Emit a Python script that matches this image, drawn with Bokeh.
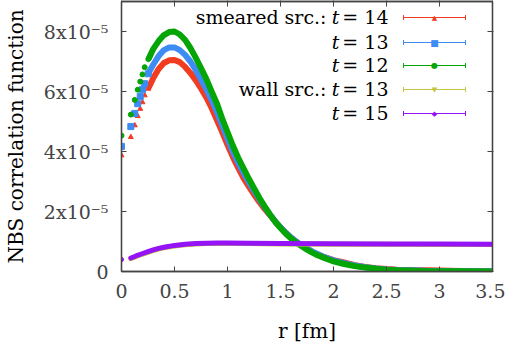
import numpy as np
from bokeh.plotting import figure
from bokeh.models import (FixedTicker, CustomJSTickFormatter, LinearAxis, Range1d,
                          Label, Arrow, TeeHead)
from bokeh.embed import file_html
from bokeh.resources import INLINE

# ---------------- data (values in units of 1e-5) ----------------
UNIT = 1e-5

r_lattice = [0.0, 0.088, 0.125, 0.153, 0.177, 0.198, 0.219, 0.253]
t14_lattice = [3.87, 4.48, 4.87, 5.18, 5.42, 5.64, 5.87, 6.09]
t13_lattice = [4.17, 4.83, 5.27, 5.59, 5.83, 6.07, 6.26, 6.59]
t12_lattice = [4.53, 5.23, 5.72, 6.06, 6.33, 6.57, 6.81, 7.08]

r_dense = [0.26, 0.30, 0.35, 0.40, 0.45, 0.50, 0.55, 0.60, 0.65, 0.70, 0.75, 0.80,
           0.85, 0.90, 0.95, 1.00, 1.05, 1.10, 1.15, 1.20, 1.25, 1.30, 1.35, 1.40,
           1.45, 1.50, 1.55, 1.60, 1.65, 1.70, 1.75, 1.80, 1.85, 1.90, 1.95, 2.00,
           2.10, 2.20, 2.30, 2.40, 2.50, 2.60, 2.70, 2.80, 2.90, 3.00, 3.20, 3.50]
t14_dense = [6.15, 6.45, 6.75, 6.95, 7.04, 7.05, 6.98, 6.82, 6.62, 6.38, 6.10, 5.80,
             5.45, 5.05, 4.65, 4.22, 3.82, 3.46, 3.12, 2.84, 2.57, 2.32, 2.09, 1.88,
             1.67, 1.47, 1.29, 1.13, 0.99, 0.87, 0.76, 0.66, 0.57, 0.50, 0.44, 0.38,
             0.30, 0.21, 0.15, 0.11, 0.08, 0.06, 0.05, 0.04, 0.04, 0.03, 0.02, 0.01]
t13_dense = [6.65, 6.90, 7.18, 7.38, 7.47, 7.47, 7.38, 7.22, 7.00, 6.72, 6.40, 6.08,
             5.72, 5.32, 4.88, 4.43, 4.00, 3.63, 3.30, 2.98, 2.69, 2.41, 2.15, 1.90,
             1.67, 1.47, 1.29, 1.13, 0.99, 0.87, 0.76, 0.66, 0.58, 0.50, 0.43, 0.37,
             0.28, 0.20, 0.14, 0.10, 0.07, 0.05, 0.04, 0.03, 0.02, 0.015, 0.01, 0.005]
t12_dense = [7.12, 7.42, 7.68, 7.88, 7.98, 8.00, 7.90, 7.72, 7.45, 7.13, 6.78, 6.42,
             6.00, 5.60, 5.10, 4.65, 4.20, 3.80, 3.45, 3.10, 2.78, 2.46, 2.17, 1.90,
             1.66, 1.45, 1.26, 1.10, 0.96, 0.84, 0.73, 0.63, 0.54, 0.47, 0.40, 0.34,
             0.25, 0.18, 0.13, 0.09, 0.06, 0.04, 0.03, 0.02, 0.01, 0.01, 0.005, 0.0]

r_wall = [0.0, 0.088, 0.125, 0.15, 0.2, 0.25, 0.3, 0.35, 0.4, 0.5, 0.6, 0.7, 0.8,
          0.9, 1.0, 1.2, 1.5, 2.0, 2.5, 3.0, 3.5]
wall_t13 = [0.39, 0.43, 0.48, 0.52, 0.58, 0.64, 0.70, 0.75, 0.79, 0.85, 0.89, 0.915,
            0.93, 0.935, 0.935, 0.93, 0.92, 0.91, 0.905, 0.90, 0.90]
wall_t15 = [0.40, 0.45, 0.50, 0.54, 0.60, 0.66, 0.72, 0.77, 0.81, 0.87, 0.91, 0.93,
            0.945, 0.95, 0.95, 0.945, 0.935, 0.925, 0.92, 0.915, 0.91]

x_ticks = [0, 0.5, 1, 1.5, 2, 2.5, 3, 3.5]
y_ticks = [0, 2e-5, 4e-5, 6e-5, 8e-5]

legend_prefix = ["smeared src.:", "", "", "wall src.:", ""]
legend_value = ["= 14", "= 13", "= 12", "= 13", "= 15"]

# ---------------- styles ----------------
RED, BLUE, GREEN, YELLOW, PURPLE = "#f23c20", "#3d8bf5", "#05a505", "#c4c440", "#9414f7"
AX = "#444444"
FONT = "DejaVu Serif"

def sc(v):
    return np.array(v) * UNIT

p = figure(width=505, height=347, output_backend="svg", toolbar_location=None,
           x_range=Range1d(0, 3.5), y_range=Range1d(0, 9.0e-5),
           min_border_left=119, min_border_right=13, min_border_top=1,
           min_border_bottom=76, background_fill_color="white")
p.outline_line_color = AX
p.outline_line_width = 1.3
p.xgrid.visible = False
p.ygrid.visible = False

xt = FixedTicker(ticks=x_ticks)
yt = FixedTicker(ticks=y_ticks)

xa = p.xaxis[0]
ya = p.yaxis[0]
xa.ticker = xt
ya.ticker = yt
xa.formatter = CustomJSTickFormatter(code="return String(Math.round(tick*10)/10);")
ya.formatter = CustomJSTickFormatter(
    code="const n = Math.round(tick/1e-5); return n == 0 ? '0' : n + 'x10\u207b\u2075';")
xa.axis_label = "r [fm]"
ya.axis_label = "NBS correlation function"
for ax in (xa, ya):
    ax.axis_line_color = AX
    ax.axis_line_width = 1.3
    ax.major_tick_line_color = AX
    ax.major_tick_in = 5
    ax.major_tick_out = 0
    ax.minor_tick_line_color = None
    ax.major_label_text_font = FONT
    ax.major_label_text_font_size = "19px"
    ax.major_label_text_color = AX
    ax.axis_label_text_font = FONT
    ax.axis_label_text_font_size = "20px"
    ax.axis_label_text_font_style = "normal"
    ax.axis_label_text_color = "black"
xa.major_label_standoff = 12
ya.major_label_standoff = 13
xa.axis_label_standoff = 18
ya.axis_label_standoff = 13

for loc, tk in (("above", xt), ("right", yt)):
    a = LinearAxis(ticker=tk, formatter=CustomJSTickFormatter(code="return '';"),
                   axis_line_color=AX, axis_line_width=1.3, major_tick_line_color=AX,
                   major_tick_in=5, major_tick_out=1, minor_tick_line_color=None,
                   major_label_standoff=0, major_label_text_font_size="1px")
    p.add_layout(a, loc)

# ---------------- data marks ----------------
series = [
    (t14_lattice, t14_dense, RED, "triangle", 5),
    (t13_lattice, t13_dense, BLUE, "square", 6),
    (t12_lattice, t12_dense, GREEN, "circle", 5),
]
for lat, dense, col, mk, sz in series:
    p.line(r_dense, sc(dense), line_color=col, line_width=6,
           line_join="round", line_cap="round")
    p.scatter(r_lattice, sc(lat), marker=mk, size=sz, fill_color=col, line_color=col)

for vals, col in ((wall_t13, YELLOW), (wall_t15, PURPLE)):
    p.line(r_wall[1:], sc(vals[1:]), line_color=col, line_width=5,
           line_join="round", line_cap="round")
    p.scatter(r_wall[:1], sc(vals[:1]), marker="circle", size=4,
              fill_color=col, line_color=col)

# ---------------- legend (screen units, relative to frame) ----------------
leg_colors = [RED, BLUE, GREEN, YELLOW, PURPLE]
leg_marks = ["\u25b2", "\u25a0", "\u25cf", "\u25bc", "\u25c6"]
leg_msize = ["7px", "9px", "8px", "7px", "7px"]
text_y = [255, 230, 207, 183, 159]   # text centres (screen, from frame bottom)
line_y = [254, 229, 206, 182, 158]   # sample line heights
for i in range(5):
    if legend_prefix[i]:
        p.add_layout(Label(x=205, y=text_y[i], x_units="screen", y_units="screen",
                           text=legend_prefix[i], text_align="right",
                           text_baseline="middle", text_font=FONT,
                           text_font_size="19px", text_color="black"))
    p.add_layout(Label(x=218, y=text_y[i], x_units="screen", y_units="screen",
                       text="t", text_align="right", text_baseline="middle",
                       text_font=FONT, text_font_style="italic",
                       text_font_size="19px", text_color="black"))
    p.add_layout(Label(x=267, y=text_y[i], x_units="screen", y_units="screen",
                       text=legend_value[i], text_align="right",
                       text_baseline="middle", text_font=FONT,
                       text_font_size="19px", text_color="black"))
    c = leg_colors[i]
    p.add_layout(Arrow(x_start=282, y_start=line_y[i], x_end=344, y_end=line_y[i],
                       start_units="screen", end_units="screen",
                       start=TeeHead(size=5, line_color=c, line_width=1),
                       end=TeeHead(size=5, line_color=c, line_width=1),
                       line_color=c, line_width=1.2))
    p.add_layout(Label(x=313, y=line_y[i], x_units="screen", y_units="screen",
                       text=leg_marks[i], text_align="center", text_baseline="middle",
                       text_font="DejaVu Sans", text_font_size=leg_msize[i],
                       text_color=c))

open("out.html", "w").write(file_html(p, INLINE))
